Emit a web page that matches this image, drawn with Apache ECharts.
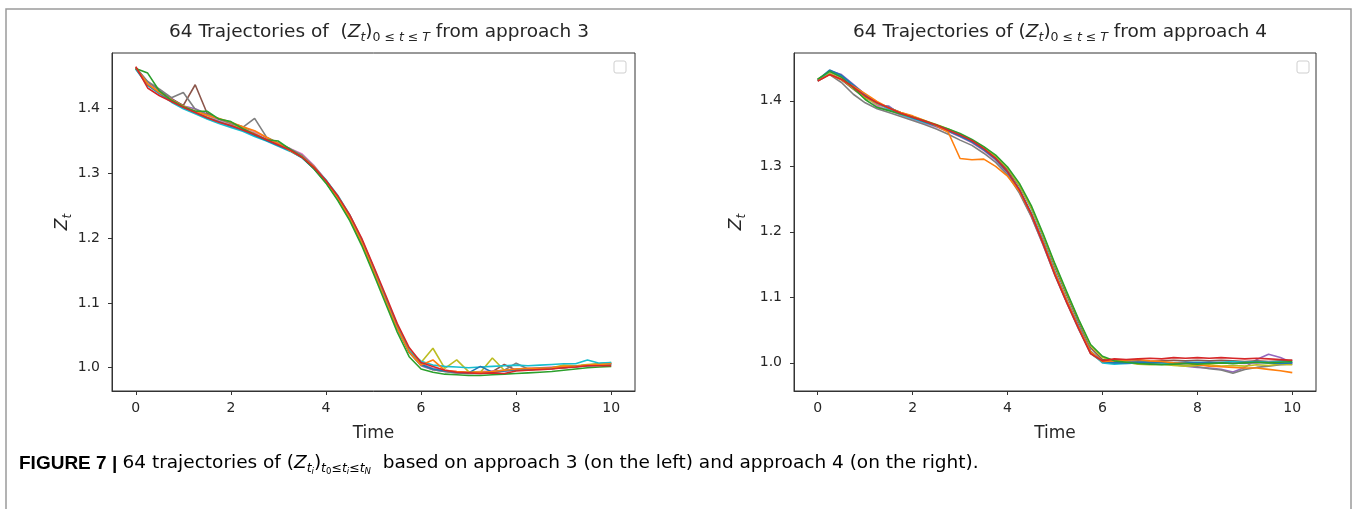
<!DOCTYPE html>
<html>
<head>
<meta charset="utf-8">
<script src="https://cdn.jsdelivr.net/npm/echarts@6/dist/echarts.min.js"></script>
<style>
  html, body { margin: 0; padding: 0; background: #fff; }
  #chart { width: 1357px; height: 509px; }
</style>
</head>
<body>
<div id="chart"></div>
<script>
// time grid shared by all trajectories
const timeSteps = [0, 0.25, 0.5, 0.75, 1, 1.25, 1.5, 1.75, 2, 2.25, 2.5, 2.75, 3, 3.25, 3.5, 3.75, 4, 4.25, 4.5, 4.75,
  5, 5.25, 5.5, 5.75, 6, 6.25, 6.5, 6.75, 7, 7.25, 7.5, 7.75, 8, 8.25, 8.5, 8.75, 9, 9.25, 9.5, 9.75, 10]

const xTicks = [0, 2, 4, 6, 8, 10]
const yTicks = [1.0, 1.1, 1.2, 1.3, 1.4]

// matplotlib tab10, in the order the last ten of the 64 lines were drawn
const lineColors = ['#9467bd', '#8c564b', '#e377c2', '#7f7f7f', '#bcbd22', '#17becf', '#1f77b4', '#ff7f0e', '#2ca02c', '#d62728']

// approach 3 (left panel)
const approach3 = [
  [1.463,1.440,1.428,1.416,1.404,1.400,1.392,1.383,1.377,1.370,1.363,1.354,1.345,1.337,1.327,1.310,1.289,1.262,1.233,1.196,1.153,1.107,1.062,1.024,1.003,0.997,0.994,0.992,0.991,0.991,0.993,0.995,0.996,0.997,0.998,0.999,1.000,1.001,1.003,1.004,1.006],
  [1.464,1.441,1.427,1.415,1.405,1.437,1.393,1.384,1.378,1.372,1.362,1.355,1.346,1.336,1.326,1.309,1.288,1.263,1.234,1.198,1.155,1.110,1.066,1.027,1.006,0.998,0.995,0.993,0.992,0.993,0.994,1.005,0.996,0.997,0.998,0.999,1.000,1.002,1.004,1.006,1.007],
  [1.462,1.439,1.426,1.414,1.403,1.396,1.389,1.382,1.376,1.369,1.364,1.353,1.345,1.338,1.330,1.312,1.290,1.264,1.233,1.196,1.152,1.108,1.064,1.026,1.005,0.999,0.996,0.994,0.993,0.994,0.995,0.996,0.998,0.999,1.000,1.001,1.001,1.002,1.003,1.005,1.006],
  [1.463,1.442,1.430,1.417,1.425,1.399,1.391,1.384,1.377,1.371,1.385,1.356,1.347,1.338,1.328,1.311,1.289,1.263,1.232,1.194,1.150,1.106,1.061,1.024,1.004,0.997,0.994,0.992,0.991,0.992,0.994,0.996,1.007,0.998,0.998,0.999,1.000,1.002,1.004,1.005,1.006],
  [1.462,1.438,1.425,1.412,1.402,1.394,1.387,1.380,1.374,1.370,1.361,1.352,1.344,1.336,1.326,1.308,1.287,1.262,1.232,1.195,1.153,1.109,1.064,1.027,1.008,1.030,0.999,1.012,0.994,0.993,1.015,0.996,0.997,0.998,0.999,1.000,1.004,1.003,1.005,1.006,1.008],
  [1.461,1.436,1.423,1.410,1.400,1.392,1.384,1.377,1.371,1.365,1.357,1.350,1.342,1.334,1.324,1.309,1.290,1.266,1.236,1.198,1.154,1.109,1.063,1.026,1.010,1.004,1.002,1.001,1.000,1.001,1.002,1.003,1.004,1.003,1.004,1.005,1.006,1.006,1.012,1.007,1.008],
  [1.462,1.437,1.424,1.412,1.402,1.394,1.386,1.380,1.373,1.367,1.359,1.351,1.343,1.335,1.324,1.307,1.286,1.260,1.230,1.193,1.150,1.106,1.062,1.024,1.005,0.998,0.995,0.993,0.992,1.002,0.993,0.995,0.997,0.998,0.999,1.000,1.001,1.002,1.003,1.004,1.005],
  [1.463,1.438,1.425,1.414,1.404,1.396,1.390,1.385,1.379,1.372,1.366,1.356,1.346,1.335,1.325,1.310,1.288,1.262,1.231,1.194,1.150,1.105,1.061,1.024,1.004,1.012,0.996,0.994,0.993,0.993,0.994,0.996,0.998,0.999,0.999,1.000,1.002,1.002,1.004,1.005,1.006],
  [1.462,1.455,1.427,1.413,1.403,1.396,1.396,1.384,1.380,1.369,1.360,1.352,1.350,1.337,1.325,1.307,1.285,1.258,1.227,1.189,1.145,1.100,1.055,1.017,0.998,0.993,0.990,0.989,0.988,0.988,0.989,0.990,0.991,0.992,0.993,0.994,0.996,0.998,1.000,1.001,1.002],
  [1.465,1.432,1.420,1.411,1.402,1.394,1.386,1.379,1.374,1.367,1.360,1.352,1.344,1.336,1.325,1.309,1.289,1.265,1.236,1.200,1.157,1.113,1.068,1.031,1.008,1.002,0.996,0.993,0.992,0.991,0.992,0.991,0.995,0.996,0.997,0.998,1.000,1.001,1.003,1.003,1.003]
]

// approach 4 (right panel)
const approach4 = [
  [1.431,1.446,1.440,1.425,1.410,1.393,1.392,1.379,1.372,1.366,1.361,1.354,1.346,1.337,1.325,1.311,1.291,1.262,1.225,1.182,1.135,1.093,1.053,1.016,1.002,1.001,1.000,0.999,0.998,0.999,0.997,0.995,0.993,0.992,0.990,0.986,0.993,1.005,1.013,1.008,1.000],
  [1.433,1.441,1.432,1.418,1.404,1.398,1.387,1.381,1.375,1.369,1.363,1.356,1.348,1.339,1.327,1.313,1.295,1.270,1.236,1.193,1.146,1.103,1.062,1.023,1.005,1.003,1.002,1.003,1.002,1.003,1.004,1.003,1.004,1.003,1.004,1.003,1.002,1.003,1.002,1.003,1.004],
  [1.432,1.444,1.436,1.421,1.407,1.392,1.386,1.378,1.372,1.366,1.360,1.353,1.345,1.336,1.324,1.309,1.289,1.261,1.224,1.180,1.134,1.092,1.052,1.015,1.001,1.000,0.999,1.000,0.999,0.998,0.999,1.000,0.999,1.000,1.001,1.000,0.999,1.000,1.001,1.000,0.999],
  [1.430,1.440,1.428,1.410,1.397,1.388,1.382,1.376,1.370,1.364,1.357,1.349,1.340,1.332,1.320,1.306,1.287,1.259,1.223,1.180,1.133,1.091,1.051,1.014,1.001,1.002,1.003,1.002,1.000,0.999,0.998,0.996,0.994,0.991,0.989,0.984,0.990,0.993,0.995,0.997,0.998],
  [1.433,1.442,1.433,1.419,1.405,1.395,1.389,1.382,1.376,1.370,1.364,1.357,1.349,1.340,1.329,1.315,1.297,1.271,1.237,1.195,1.149,1.106,1.065,1.026,1.008,1.003,1.001,0.998,0.997,0.998,0.996,0.995,0.996,0.997,0.995,0.996,0.995,0.997,0.996,0.998,0.997],
  [1.431,1.445,1.438,1.423,1.408,1.397,1.387,1.379,1.373,1.367,1.362,1.356,1.348,1.338,1.326,1.311,1.292,1.265,1.229,1.186,1.139,1.096,1.055,1.017,1.000,0.998,0.999,1.000,1.001,1.000,0.999,1.000,1.001,1.000,1.001,1.002,1.001,1.002,1.001,1.002,1.001],
  [1.432,1.447,1.439,1.424,1.409,1.397,1.390,1.382,1.374,1.368,1.361,1.354,1.346,1.337,1.325,1.311,1.291,1.264,1.228,1.185,1.138,1.095,1.056,1.018,1.002,1.000,1.000,1.001,1.000,1.001,1.000,1.001,1.000,1.001,1.000,0.999,1.000,1.001,1.000,0.999,1.000],
  [1.431,1.440,1.432,1.422,1.411,1.399,1.389,1.382,1.377,1.370,1.362,1.352,1.312,1.310,1.311,1.300,1.285,1.262,1.227,1.184,1.137,1.095,1.054,1.017,1.002,1.003,1.004,1.005,1.003,1.002,1.000,0.999,0.997,0.995,0.994,0.993,0.992,0.992,0.990,0.988,0.985],
  [1.433,1.445,1.436,1.420,1.402,1.390,1.385,1.380,1.375,1.369,1.363,1.357,1.350,1.341,1.330,1.317,1.299,1.274,1.240,1.197,1.151,1.108,1.066,1.028,1.010,1.003,1.001,0.999,0.998,0.997,0.998,0.999,0.998,0.999,1.000,0.999,1.000,1.001,1.000,1.001,1.002],
  [1.430,1.440,1.433,1.421,1.407,1.397,1.389,1.381,1.375,1.369,1.363,1.355,1.348,1.339,1.327,1.312,1.292,1.264,1.227,1.182,1.134,1.092,1.052,1.014,1.003,1.006,1.005,1.006,1.007,1.006,1.008,1.007,1.008,1.007,1.008,1.007,1.006,1.007,1.006,1.005,1.004]
]

const chart = echarts.init(document.getElementById('chart'))

const ink = '#262626'
const tickFont = { fontFamily: 'DejaVu Sans', fontSize: 14, color: ink }

const makeRich = (big, small, drop) => ({
  n: { fontFamily: 'DejaVu Sans', fontSize: big, fontWeight: 'normal', color: ink },
  z: { fontFamily: 'DejaVu Sans', fontSize: big, fontStyle: 'italic', fontWeight: 'normal', color: ink },
  s: { fontFamily: 'DejaVu Sans', fontSize: small, fontStyle: 'italic', fontWeight: 'normal', color: ink, padding: [drop, 0, 0, 0] },
  r: { fontFamily: 'DejaVu Sans', fontSize: small, fontWeight: 'normal', color: ink, padding: [drop, 0, 0, 0] }
})

const makeX = (gridIndex) => ({
  type: 'value',
  gridIndex: gridIndex,
  min: -0.5,
  max: 10.5,
  name: 'Time',
  nameLocation: 'middle',
  nameGap: 34,
  nameTextStyle: { fontFamily: 'DejaVu Sans', fontSize: 17, color: ink },
  axisLine: { show: true, onZero: false, lineStyle: { color: '#333', width: 1 } },
  axisTick: { show: true, length: 4, customValues: xTicks, lineStyle: { color: '#333' } },
  axisLabel: Object.assign({ customValues: xTicks, margin: 10, formatter: (v) => String(v) }, tickFont),
  splitLine: { show: false }
})

const makeY = (gridIndex, min, max, gap) => ({
  type: 'value',
  gridIndex: gridIndex,
  min: min,
  max: max,
  name: '{z|Z}{s|t}',
  nameLocation: 'middle',
  nameGap: gap,
  nameRotate: 90,
  nameTextStyle: { rich: makeRich(17, 12, 10) },
  axisLine: { show: true, onZero: false, lineStyle: { color: '#333', width: 1 } },
  axisTick: { show: true, length: 4, customValues: yTicks, lineStyle: { color: '#333' } },
  axisLabel: Object.assign({ customValues: yTicks, margin: 12, formatter: (v) => v.toFixed(1) }, tickFont),
  splitLine: { show: false }
})

const makeSeries = (sets, axisIndex) => sets.map((vals, i) => ({
  type: 'line',
  xAxisIndex: axisIndex,
  yAxisIndex: axisIndex,
  showSymbol: false,
  silent: true,
  lineStyle: { width: 1.6, color: lineColors[i] },
  itemStyle: { color: lineColors[i] },
  data: vals.map((v, j) => [timeSteps[j], v])
}))

const capInk = '#2b2b2b'
const captionRich = {
  b: { fontFamily: 'Liberation Sans', fontSize: 19, fontWeight: 'bold', color: capInk },
  n: { fontFamily: 'DejaVu Sans', fontSize: 18.5, color: capInk },
  zi: { fontFamily: 'DejaVu Sans', fontSize: 18.5, fontStyle: 'italic', color: capInk },
  s1: { fontFamily: 'DejaVu Sans', fontSize: 12.5, fontStyle: 'italic', color: capInk, padding: [10, 0, 0, 0] },
  s2: { fontFamily: 'DejaVu Sans', fontSize: 8.5, fontStyle: 'italic', color: capInk, padding: [16, 0, 0, 0] },
  r1: { fontFamily: 'DejaVu Sans', fontSize: 12.5, color: capInk, padding: [10, 0, 0, 0] },
  r2: { fontFamily: 'DejaVu Sans', fontSize: 8.5, color: capInk, padding: [16, 0, 0, 0] }
}

const option = {
  animation: false,
  backgroundColor: '#fff',
  title: [
    {
      text: '{n|64 Trajectories of  (}{z|Z}{s|t}{n|)}{r|0 ≤ }{s|t}{r| ≤ }{s|T}{n| from approach 3}',
      left: 374,
      top: 16,
      textAlign: 'center',
      textStyle: { fontWeight: 'normal', rich: makeRich(18.5, 12.5, 10) }
    },
    {
      text: '{n|64 Trajectories of (}{z|Z}{s|t}{n|)}{r|0 ≤ }{s|t}{r| ≤ }{s|T}{n| from approach 4}',
      left: 1055,
      top: 16,
      textAlign: 'center',
      textStyle: { fontWeight: 'normal', rich: makeRich(18.5, 12.5, 10) }
    }
  ],
  grid: [
    { left: 112, top: 53, width: 523, height: 338, show: true, borderColor: '#333', borderWidth: 1, backgroundColor: '#fff' },
    { left: 794, top: 53, width: 522, height: 338, show: true, borderColor: '#333', borderWidth: 1, backgroundColor: '#fff' }
  ],
  xAxis: [makeX(0), makeX(1)],
  yAxis: [makeY(0, 0.964, 1.486, 33), makeY(1, 0.957, 1.473, 46)],
  series: [].concat(makeSeries(approach3, 0), makeSeries(approach4, 1)),
  graphic: [
    {
      type: 'rect',
      shape: { x: 6, y: 9, width: 1345, height: 520 },
      style: { fill: 'none', stroke: '#9a9a9a', lineWidth: 1.5 },
      silent: true
    },
    {
      type: 'rect',
      shape: { x: 614, y: 61, width: 12, height: 12, r: 2 },
      style: { fill: '#fff', stroke: '#cfcfcf', lineWidth: 1 },
      z: 10
    },
    {
      type: 'rect',
      shape: { x: 1297, y: 61, width: 12, height: 12, r: 2 },
      style: { fill: '#fff', stroke: '#cfcfcf', lineWidth: 1 },
      z: 10
    },
    {
      type: 'text',
      left: 19,
      top: 454,
      style: {
        text: '{b|FIGURE 7 | }{n|64 trajectories of (}{zi|Z}{s1|t}{s2|i}{n|)}{s1|t}{r2|0}{r1|≤}{s1|t}{s2|i}{r1|≤}{s1|t}{s2|N}{n|  based on approach 3 (on the left) and approach 4 (on the right).}',
        rich: captionRich
      }
    }
  ]
}

chart.setOption(option)
</script>
</body>
</html>
